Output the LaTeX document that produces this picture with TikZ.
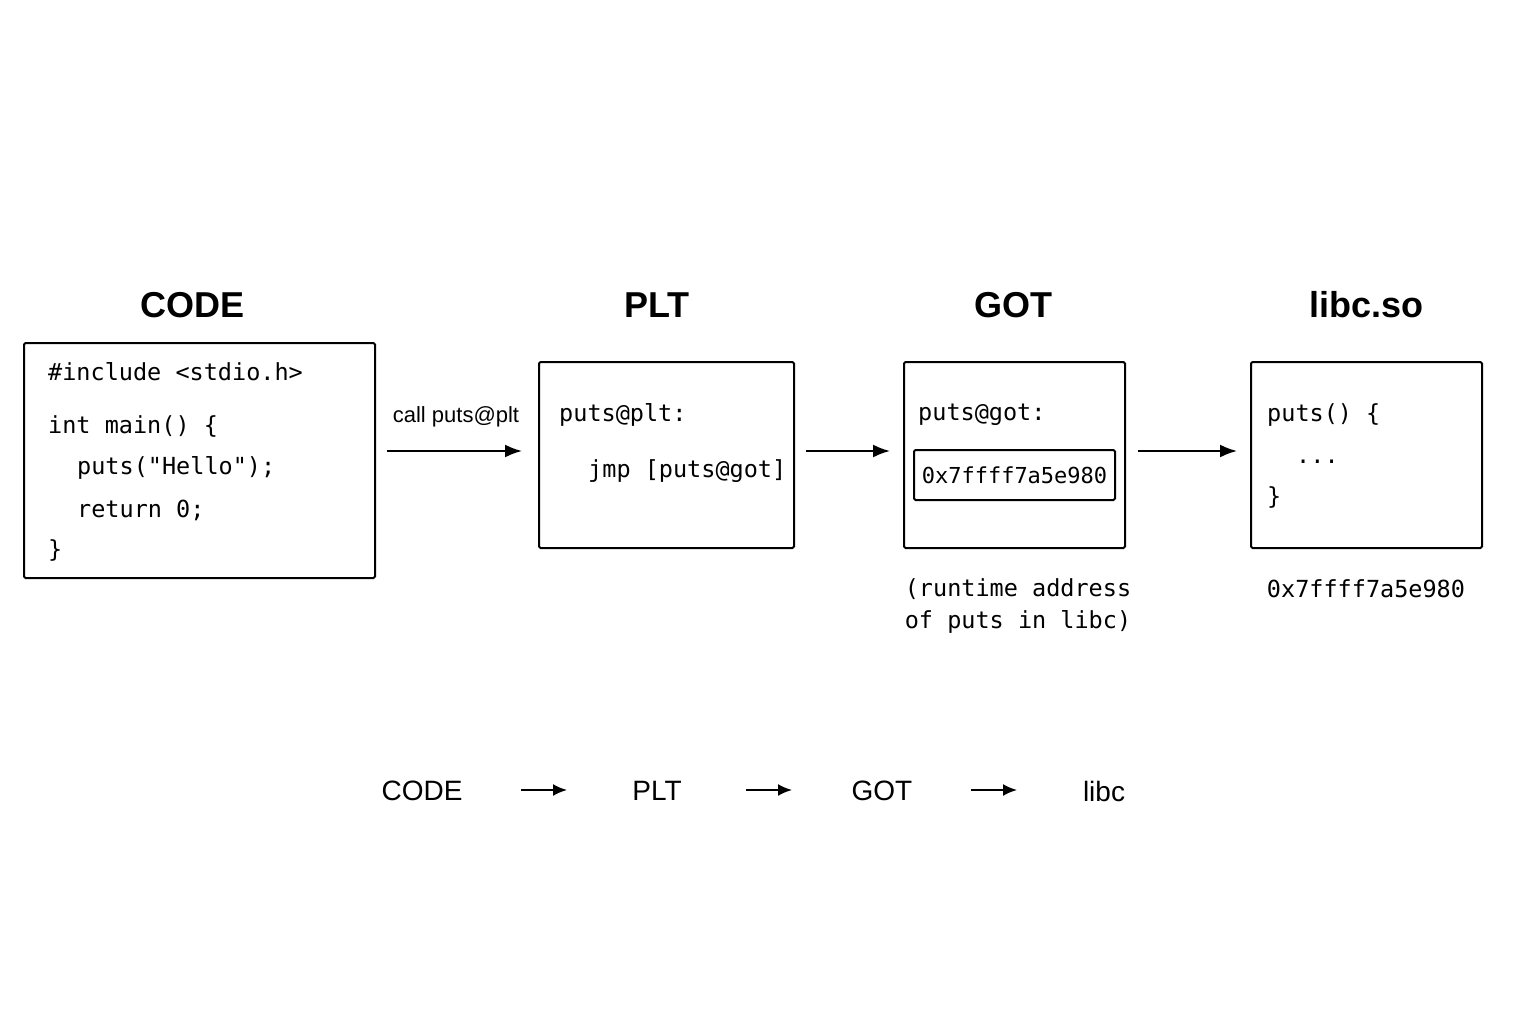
\documentclass[tikz,border=0pt]{standalone}
\usepackage{fontspec}
\setmainfont{Liberation Sans}
\newfontfamily\codefont{DejaVu Sans Mono}
\usetikzlibrary{arrows.meta}
\begin{document}
\begin{tikzpicture}[x=1pt,y=-1pt,
  box/.style={draw,line width=2pt,rounded corners=1.5pt,inner sep=0pt},
  title/.style={font=\fontsize{36}{40}\selectfont\bfseries},
  code/.style={font=\codefont\fontsize{23.5}{27}\selectfont,anchor=west,inner sep=0pt},
  arr/.style={-{Latex[length=17pt,width=13pt]},line width=2pt},
  bot/.style={font=\fontsize{28}{32}\selectfont},
  barr/.style={-{Latex[length=14pt,width=12pt]},line width=2pt}]
\useasboundingbox (0,0) rectangle (1536,1024);
% titles
\node[title] (t1) at (193,305) {CODE};
\node[title] (t2) at (657,305) {PLT};
\node[title] (t3) at (1013,305) {GOT};
\node[title] (t4) at (1366,305) {libc.so};
% boxes
\node[box,minimum width=351,minimum height=235] (code) at (199.5,460.5) {};
\node[box,minimum width=255,minimum height=186] (plt) at (666.5,455) {};
\node[box,minimum width=221,minimum height=186] (got) at (1014.5,455) {};
\node[box,minimum width=201,minimum height=50] (addr) at (1014.5,475) {};
\node[box,minimum width=231,minimum height=186] (libc) at (1366.5,455) {};
% code text
\node[code] (c1) at (48,372) {\#include <stdio.h>};
\node[code] (c2) at (48,426) {int main() \{};
\node[code] (c3) at (77,468) {puts("Hello");};
\node[code] (c4) at (77,510) {return 0;};
\node[code] (c5) at (48,550) {\}};
\node[code] (p1) at (559,415) {puts@plt:};
\node[code] (p2) at (588,471) {jmp [puts@got]};
\node[code] (g1) at (918,415) {puts@got:};
\node[code,anchor=center,font=\codefont\fontsize{22}{26}\selectfont] (g2) at (addr) {0x7ffff7a5e980};
\node[code] (l1) at (1267,415) {puts() \{};
\node[code] (l2) at (1296,462) {...};
\node[code] (l3) at (1267,497) {\}};
\node[code,anchor=center] (n1) at (1018,589) {(runtime address};
\node[code,anchor=center] (n2) at (1018,622) {of puts in libc)};
\node[code,anchor=center] (n3) at (1366,589) {0x7ffff7a5e980};
% arrows
\node[font=\fontsize{22}{26}\selectfont] (lab) at (456,417) {call puts@plt};
\coordinate (a1) at (387,451); \coordinate (a2) at (522,451);
\coordinate (b1) at (806,451); \coordinate (b2) at (890,451);
\coordinate (d1) at (1138,451); \coordinate (d2) at (1237,451);
\draw[arr] (a1) -- (a2);
\draw[arr] (b1) -- (b2);
\draw[arr] (d1) -- (d2);
% bottom row
\node[bot] (s1) at (422,791) {CODE};
\node[bot] (s2) at (657,791) {PLT};
\node[bot] (s3) at (882,791) {GOT};
\node[bot] (s4) at (1104,791) {libc};
\coordinate (e1) at (521,790); \coordinate (e2) at (567,790);
\coordinate (f1) at (746,790); \coordinate (f2) at (792,790);
\coordinate (h1) at (971,790); \coordinate (h2) at (1017,790);
\draw[barr] (e1) -- (e2);
\draw[barr] (f1) -- (f2);
\draw[barr] (h1) -- (h2);
\end{tikzpicture}
\end{document}
